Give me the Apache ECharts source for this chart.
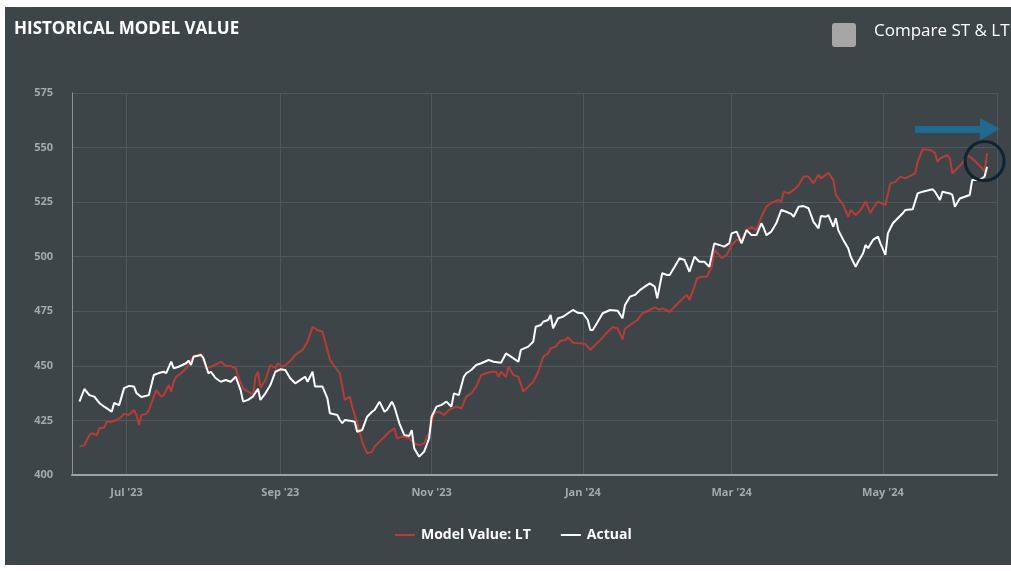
<!DOCTYPE html>
<html><head><meta charset="utf-8">
<script src="https://cdn.jsdelivr.net/npm/echarts@6/dist/echarts.min.js"></script>
<style>
html,body{margin:0;padding:0;background:#ffffff;width:1011px;height:571px;overflow:hidden}
#c{position:absolute;left:5px;top:7px;width:1006px;height:558px;}
</style>
</head><body><div id="c"></div>
<script>
// ---- data ----
const xTickDates = ['2023-07-01','2023-09-01','2023-11-01','2024-01-01','2024-03-01','2024-05-01'];
const yTicks = [400, 425, 450, 475, 500, 525, 550, 575];
const seriesNames = ['Model Value: LT', 'Actual'];

const actualDates = ['2023-06-12','2023-06-14','2023-06-16','2023-06-18','2023-06-20','2023-06-22','2023-06-25','2023-06-26','2023-06-28','2023-06-30',
'2023-07-02','2023-07-04','2023-07-05','2023-07-07','2023-07-10','2023-07-12','2023-07-14','2023-07-16','2023-07-17','2023-07-19','2023-07-20','2023-07-22','2023-07-25','2023-07-26','2023-07-27','2023-07-28','2023-07-31',
'2023-08-01','2023-08-03','2023-08-04','2023-08-06','2023-08-08','2023-08-10','2023-08-12','2023-08-14','2023-08-16','2023-08-17','2023-08-19','2023-08-21','2023-08-23','2023-08-24','2023-08-26','2023-08-28','2023-08-30',
'2023-09-01','2023-09-03','2023-09-05','2023-09-07','2023-09-09','2023-09-11','2023-09-12','2023-09-14','2023-09-15','2023-09-18','2023-09-20','2023-09-21','2023-09-24','2023-09-25','2023-09-26','2023-09-27','2023-09-29',
'2023-10-01','2023-10-02','2023-10-04','2023-10-06','2023-10-08','2023-10-09','2023-10-11','2023-10-13','2023-10-14','2023-10-16','2023-10-17','2023-10-19','2023-10-21','2023-10-23','2023-10-24','2023-10-25','2023-10-27','2023-10-29','2023-10-31',
'2023-11-01','2023-11-03','2023-11-05','2023-11-07','2023-11-09','2023-11-10','2023-11-12','2023-11-14','2023-11-15','2023-11-17','2023-11-19','2023-11-21','2023-11-24','2023-11-26','2023-11-29',
'2023-12-01','2023-12-03','2023-12-06','2023-12-07','2023-12-10','2023-12-12','2023-12-13','2023-12-15','2023-12-16','2023-12-18','2023-12-19','2023-12-20','2023-12-22','2023-12-24','2023-12-26','2023-12-28','2023-12-30',
'2024-01-01','2024-01-03','2024-01-04','2024-01-05','2024-01-07','2024-01-09','2024-01-12','2024-01-15','2024-01-17','2024-01-18','2024-01-20','2024-01-22','2024-01-24','2024-01-26','2024-01-28','2024-01-30','2024-01-31',
'2024-02-02','2024-02-04','2024-02-05','2024-02-07','2024-02-09','2024-02-11','2024-02-13','2024-02-15','2024-02-17','2024-02-19','2024-02-21','2024-02-23','2024-02-25','2024-02-27','2024-02-29',
'2024-03-01','2024-03-03','2024-03-05','2024-03-07','2024-03-09','2024-03-11','2024-03-13','2024-03-14','2024-03-15','2024-03-17','2024-03-19','2024-03-21','2024-03-23','2024-03-25','2024-03-26','2024-03-28','2024-03-30',
'2024-04-01','2024-04-03','2024-04-05','2024-04-06','2024-04-08','2024-04-09','2024-04-11','2024-04-12','2024-04-13','2024-04-15','2024-04-17','2024-04-18','2024-04-20','2024-04-21','2024-04-23','2024-04-24','2024-04-25','2024-04-27','2024-04-29','2024-04-30',
'2024-05-02','2024-05-03','2024-05-05','2024-05-07','2024-05-09','2024-05-10','2024-05-13','2024-05-15','2024-05-17','2024-05-19','2024-05-21','2024-05-22','2024-05-24','2024-05-25','2024-05-28','2024-05-29','2024-05-30',
'2024-06-01','2024-06-03','2024-06-05','2024-06-06','2024-06-08','2024-06-10','2024-06-11','2024-06-12'];
const actualValues = [433.6,439.4,436.6,435.9,433,431.3,429,433,432,439.8,
440.8,440.5,437.5,435.7,436.6,445.8,446.7,447.3,446.7,451.9,448.9,449.6,451.2,452.4,450.4,454.2,455,
453.5,446.6,447.3,444.3,442.7,443.5,442.7,445,438.9,433.6,434.4,436,439.5,434.4,437.4,441.2,447.3,
448.4,448.1,444.3,442,443.5,445,442.7,447.3,440.5,440.5,435.1,428.3,427.5,425.2,423.7,425.2,424.9,
424.4,419.8,420.6,426.7,429,429.8,433.6,429,429.8,433.6,431.3,423.7,418.3,417.9,420.6,412.2,408.4,410.7,416.8,
426.7,431.3,432.1,433.6,431.3,437.4,436.6,445,446.6,448.1,450.4,451.2,452.7,451.9,451.4,
455.7,454.2,451.9,457.3,458.8,461.1,467.9,468.7,470.2,471,473.3,467.2,471.8,472.5,474.1,475.6,474.3,
474.1,471,466.4,466.4,470.2,474.1,475.6,475.3,471.8,477.9,481.7,482.5,484.7,486.3,487.8,486.3,480.9,
492.4,491.6,491.6,495.4,499.3,498.5,493.1,500,497.7,497.7,495.4,506.1,505.4,504.6,506.1,
510.7,511.5,506.1,512.2,509.9,509.9,515.3,513,509.9,511.5,515.3,521.4,520.6,519.6,518.3,522.9,523.2,
522.2,516,513,518.6,518.3,519.1,513.7,517.6,512.2,507.7,503.9,500,495.4,497.7,501.6,505.4,503.9,507.7,509.2,506.1,
500.8,510.7,515.3,517.6,519.9,521.4,521.7,529,529.8,530.3,530.9,529.8,526,529.8,529,528.3,522.9,
526.7,527.5,528.3,535.1,535.1,535.9,536.7,541.2];

const modelDates = ['2023-06-12','2023-06-14','2023-06-16','2023-06-17','2023-06-19','2023-06-20','2023-06-22','2023-06-23','2023-06-25','2023-06-27','2023-06-29','2023-06-30',
'2023-07-02','2023-07-04','2023-07-05','2023-07-06','2023-07-07','2023-07-09','2023-07-10','2023-07-12','2023-07-13','2023-07-15','2023-07-16','2023-07-18','2023-07-19','2023-07-20','2023-07-21','2023-07-23','2023-07-25','2023-07-27','2023-07-28','2023-07-31',
'2023-08-01','2023-08-02','2023-08-04','2023-08-07','2023-08-08','2023-08-10','2023-08-12','2023-08-14','2023-08-15','2023-08-17','2023-08-19','2023-08-21','2023-08-22','2023-08-23','2023-08-24','2023-08-26','2023-08-28','2023-08-30','2023-08-31',
'2023-09-02','2023-09-04','2023-09-06','2023-09-07','2023-09-10','2023-09-12','2023-09-14','2023-09-16','2023-09-18','2023-09-21','2023-09-22','2023-09-25','2023-09-26','2023-09-27','2023-09-29','2023-09-30',
'2023-10-02','2023-10-04','2023-10-06','2023-10-08','2023-10-09','2023-10-11','2023-10-13','2023-10-15','2023-10-17','2023-10-18','2023-10-20','2023-10-23','2023-10-25','2023-10-27','2023-10-29','2023-10-31',
'2023-11-02','2023-11-04','2023-11-06','2023-11-08','2023-11-11','2023-11-13','2023-11-15','2023-11-17','2023-11-19','2023-11-21','2023-11-23','2023-11-25','2023-11-27','2023-11-28','2023-11-29',
'2023-12-01','2023-12-02','2023-12-04','2023-12-06','2023-12-08','2023-12-10','2023-12-12','2023-12-14','2023-12-16','2023-12-18','2023-12-19','2023-12-21','2023-12-23','2023-12-25','2023-12-26','2023-12-28','2023-12-31',
'2024-01-02','2024-01-04','2024-01-06','2024-01-08','2024-01-11','2024-01-13','2024-01-15','2024-01-17','2024-01-18','2024-01-20','2024-01-23','2024-01-25','2024-01-28','2024-01-30',
'2024-02-01','2024-02-02','2024-02-05','2024-02-07','2024-02-09','2024-02-11','2024-02-12','2024-02-13','2024-02-15','2024-02-16','2024-02-18','2024-02-20','2024-02-22','2024-02-23','2024-02-25','2024-02-26','2024-02-28',
'2024-03-01','2024-03-03','2024-03-05','2024-03-07','2024-03-09','2024-03-11','2024-03-13','2024-03-15','2024-03-17','2024-03-20','2024-03-21','2024-03-22','2024-03-24','2024-03-26','2024-03-28','2024-03-30',
'2024-04-01','2024-04-03','2024-04-05','2024-04-06','2024-04-09','2024-04-11','2024-04-12','2024-04-14','2024-04-15','2024-04-17','2024-04-18','2024-04-20','2024-04-22','2024-04-24','2024-04-26','2024-04-27','2024-04-29',
'2024-05-02','2024-05-04','2024-05-06','2024-05-08','2024-05-10','2024-05-12','2024-05-14','2024-05-15','2024-05-17','2024-05-20','2024-05-22','2024-05-23','2024-05-24','2024-05-27','2024-05-28','2024-05-29','2024-05-31',
'2024-06-02','2024-06-04','2024-06-06','2024-06-08','2024-06-10','2024-06-11','2024-06-12'];
const modelValues = [413,413.7,418.3,419.1,418.3,421.4,421.8,424.4,424.4,425.2,426.7,428,
427.5,429.8,427.5,422.9,427.5,428,429.8,435.9,438.9,435.9,436.6,441.2,438.2,442.7,445,446.6,448.9,452.7,454.5,455.4,
452.7,448.9,449.6,451.2,451.9,449.9,449.9,448.9,445,439.7,438.2,436.6,445,447.3,440,443.5,450.4,448.9,451.2,
449.6,451.2,453.5,455,457.3,461.1,467.9,466.4,465.6,453,451.2,446.6,440.5,434.4,435.9,431.3,
423.7,415.3,409.9,410.7,413,415.3,417.5,419.8,421.4,416.8,417.5,416.8,414.5,413.7,414.5,419.1,
428.3,429,427.5,429.8,431.3,430.5,435.9,437.4,440.5,445.8,446.6,447.3,447.3,445,447.3,
445,449.6,445.8,445,438.2,440.5,442.7,447.3,454.2,455.7,458,458.8,461.5,461.8,463.1,460.6,460.3,
460,457.3,459.6,461.8,465.6,467.7,467.2,462.2,467,468.7,471,474.1,475.6,476.8,
475.6,476.4,474.8,477.1,479.4,481.7,482.5,480.2,486.3,490.1,490.8,490.8,495.4,503.1,500.8,499.3,500.8,
505.4,507.7,507.7,512.2,513.7,512.2,518.3,522.9,524.7,526,525.2,529.8,529,530.6,532.8,536.7,
536.7,533.6,537.6,535.9,538.5,535.1,528.3,525.2,523.7,518.3,521.4,519.1,521.4,525.2,520,522.2,525.2,
523.7,533.6,534.3,536.7,535.9,537,538.2,543.5,549.2,548.9,547.6,543.5,545,546.6,545,538.2,540.5,
542.8,546.6,545,542.8,540.5,539,547.5];

const highlightPoint = ['2024-06-11', 543.8];
const xMin = '2023-06-09', xMax = '2024-06-16';

// ---- chart ----
const MONTHS = ['Jan','Feb','Mar','Apr','May','Jun','Jul','Aug','Sep','Oct','Nov','Dec'];
const toTs = d => +new Date(d + 'T00:00:00');
const DAY = 86400000;
const FONT = 'Open Sans';
const chart = echarts.init(document.getElementById('c'), null, {renderer: 'canvas'});
chart.setOption({
  backgroundColor: '#3e4548',
  animation: false,
  title: {
    text: 'HISTORICAL MODEL VALUE', left: 4, top: 9,
    textStyle: {color: '#ffffff', fontSize: 17, fontWeight: 'bold', fontFamily: FONT}
  },
  legend: {
    data: seriesNames, left: 385, top: 516, itemWidth: 20, itemHeight: 2, itemGap: 30,
    icon: 'rect',
    textStyle: {color: '#ffffff', fontSize: 14, fontWeight: 'bold', fontFamily: FONT, padding: [0, 0, 0, 1]}
  },
  grid: {left: 67, right: 14, top: 86, bottom: 90},
  xAxis: {
    type: 'time', min: toTs(xMin), max: toTs(xMax),
    minInterval: 61 * DAY, maxInterval: 62 * DAY,
    axisLine: {show: true, lineStyle: {color: '#9aa3a8', width: 2}},
    axisTick: {show: false},
    axisLabel: {
      color: '#a3aaae', fontSize: 11, fontWeight: 'bold', fontFamily: FONT, margin: 12,
      formatter: v => { const d = new Date(v); return MONTHS[d.getMonth()] + " '" + String(d.getFullYear()).slice(2); }
    },
    splitLine: {show: true, lineStyle: {color: '#50585b', width: 1}}
  },
  yAxis: {
    type: 'value', min: yTicks[0], max: yTicks[yTicks.length - 1], interval: 25,
    axisLine: {show: true, lineStyle: {color: '#8a9397', width: 1}},
    axisTick: {show: false},
    axisLabel: {color: '#a3aaae', fontSize: 11, fontWeight: 'bold', fontFamily: FONT, margin: 19},
    splitLine: {show: true, lineStyle: {color: '#50585b', width: 1}}
  },
  series: [
    {
      name: seriesNames[0], type: 'line', symbol: 'none', color: '#b83c35',
      lineStyle: {width: 2, color: '#b83c35'},
      data: modelDates.map((d, i) => [toTs(d), modelValues[i]]),
      markPoint: {
        symbol: 'circle', symbolSize: 39, silent: true,
        itemStyle: {color: 'rgba(0,0,0,0)', borderColor: '#0e2431', borderWidth: 3},
        label: {show: false},
        data: [{coord: [toTs(highlightPoint[0]), highlightPoint[1]]}]
      }
    },
    {
      name: seriesNames[1], type: 'line', symbol: 'none', color: '#ffffff',
      lineStyle: {width: 2, color: '#ffffff'},
      data: actualDates.map((d, i) => [toTs(d), actualValues[i]])
    }
  ],
  graphic: [
    {type: 'rect', left: 827, top: 16, shape: {width: 24, height: 24, r: 3}, style: {fill: '#a6a6a6'}},
    {type: 'text', left: 869, top: 16, style: {text: 'Compare ST & LT', fill: '#ffffff', font: '17px "Open Sans"'}},
    {type: 'rect', shape: {x: 910, y: 119, width: 66, height: 7}, style: {fill: '#1f6a92'}},
    {type: 'polygon', shape: {points: [[975, 111], [995, 122], [975, 133]]}, style: {fill: '#1f6a92'}}
  ]
});
</script>
</body></html>
